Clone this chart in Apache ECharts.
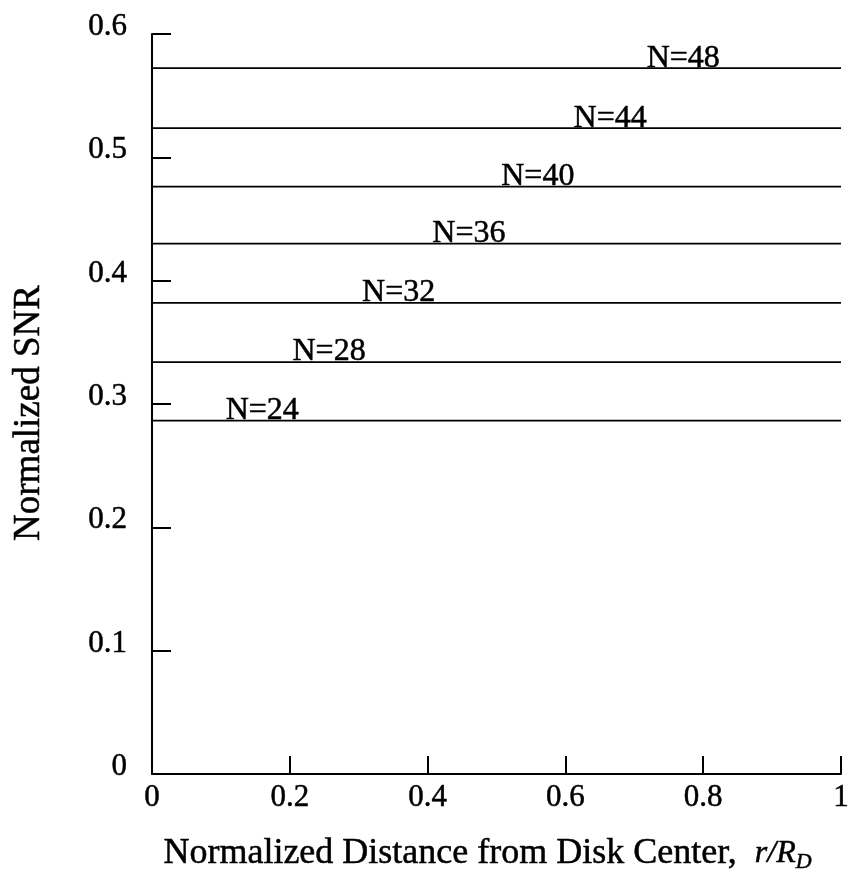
<!DOCTYPE html>
<html>
<head>
<meta charset="utf-8">
<script src="https://cdn.jsdelivr.net/npm/echarts@6/dist/echarts.min.js"></script>
<style>
html,body{margin:0;padding:0;background:#fff;}
#chart{width:852px;height:888px;}
</style>
</head>
<body>
<div id="chart"></div>
<script>
// Data
var seriesNames = ['N=24','N=28','N=32','N=36','N=40','N=44','N=48'];
var snrValues = [0.2865, 0.334, 0.382, 0.430, 0.4763, 0.5237, 0.5723];
var labelX = [0.16, 0.257, 0.358, 0.46, 0.56, 0.665, 0.771];
var xRange = [0, 1];
var xTicks = [0, 0.2, 0.4, 0.6, 0.8, 1];
var yTicks = [0, 0.1, 0.2, 0.3, 0.4, 0.5, 0.6];

var FONT = '"Liberation Serif", "Times New Roman", serif';
var THICK = {textBorderColor: '#000', textBorderWidth: 0.5};

var series = seriesNames.map(function(name, i){
  return {
    name: name,
    type: 'line',
    data: xRange.map(function(x){ return [x, snrValues[i]]; }),
    symbol: 'none',
    lineStyle: {color: '#000', width: 1.8},
    silent: true,
    markPoint: {
      symbol: 'circle',
      symbolSize: 0,
      data: [{coord: [labelX[i], snrValues[i]]}],
      label: Object.assign({
        show: true,
        position: 'top',
        distance: -6,
        formatter: name,
        color: '#000',
        fontFamily: FONT,
        fontSize: 32
      }, THICK)
    }
  };
});

var chart = echarts.init(document.getElementById('chart'));
chart.setOption({
  backgroundColor: '#fff',
  animation: false,
  grid: {left: 152, right: 6, top: 34, bottom: 114},
  xAxis: {
    type: 'value',
    min: 0, max: 1, interval: 0.2,
    splitLine: {show: false},
    axisLine: {lineStyle: {color: '#000', width: 2}},
    axisTick: {inside: true, length: 18, lineStyle: {color: '#000', width: 2}},
    axisLabel: Object.assign({
      color: '#000', fontFamily: FONT, fontSize: 31, margin: 8,
      formatter: function(v){ return xTicks.indexOf(+v.toFixed(1)) >= 0 ? String(+v.toFixed(1)) : ''; }
    }, THICK),
    name: '{a|Normalized Distance from Disk Center,  }{i|r/R}{s|D}',
    nameLocation: 'middle',
    nameGap: 61,
    nameTextStyle: {
      padding: [0, 18, 0, 0],
      rich: {
        a: Object.assign({fontFamily: FONT, fontSize: 36, color: '#000'}, THICK),
        i: Object.assign({fontFamily: FONT, fontSize: 32, fontStyle: 'italic', color: '#000'}, THICK),
        s: Object.assign({fontFamily: FONT, fontSize: 22, fontStyle: 'italic', color: '#000', padding: [16, 0, 0, 0]}, THICK)
      }
    }
  },
  yAxis: {
    type: 'value',
    min: 0, max: 0.6, interval: 0.1,
    splitLine: {show: false},
    axisLine: {lineStyle: {color: '#000', width: 2}},
    axisTick: {inside: true, length: 19, lineStyle: {color: '#000', width: 2}},
    axisLabel: Object.assign({
      color: '#000', fontFamily: FONT, fontSize: 31, margin: 25,
      verticalAlign: 'bottom', lineHeight: 14,
      formatter: function(v){ return String(+v.toFixed(1)); }
    }, THICK),
    name: 'Normalized SNR',
    nameLocation: 'middle',
    nameGap: 104,
    nameTextStyle: Object.assign({color: '#000', fontFamily: FONT, fontSize: 37, padding: [0, 18, 0, 0]}, THICK)
  },
  series: series
});
</script>
</body>
</html>
